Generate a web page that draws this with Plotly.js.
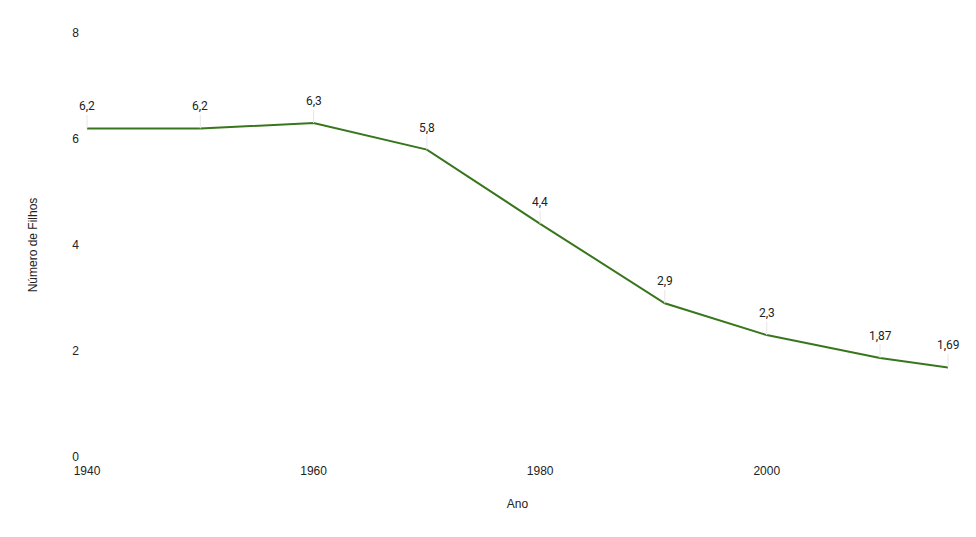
<!DOCTYPE html>
<html>
<head>
<meta charset="utf-8">
<script src="https://cdn.plot.ly/plotly-3.0.1.min.js"></script>
<style>
  html, body { margin: 0; padding: 0; background: #fff; }
  #chart { width: 976px; height: 537px; }
</style>
</head>
<body>
<div id="chart"></div>
<script>
// Taxa de fecundidade por ano
const anos = [1940, 1950, 1960, 1970, 1980, 1991, 2000, 2010, 2016];
const filhos = [6.2, 6.2, 6.3, 5.8, 4.4, 2.9, 2.3, 1.87, 1.69];
const rotulos = ['6,2', '6,2', '6,3', '5,8', '4,4', '2,9', '2,3', '1,87', '1,69'];

const trace = {
    type: 'scatter',
    mode: 'lines',
    x: anos,
    y: filhos,
    line: { color: '#38761d', width: 2 },
    hoverinfo: 'x+y'
};

// Rótulos com uma haste cinza clara acima de cada ponto
const annotations = anos.map((ano, i) => ({
    x: ano,
    y: filhos[i],
    xref: 'x',
    yref: 'y',
    text: rotulos[i],
    showarrow: true,
    arrowhead: 0,
    arrowwidth: 1,
    arrowcolor: '#e6e6e6',
    ax: 0,
    ay: -22,
    font: { family: 'Roboto, sans-serif', size: 12, color: '#222222' }
}));

const layout = {
    width: 976,
    height: 537,
    paper_bgcolor: '#ffffff',
    plot_bgcolor: '#ffffff',
    showlegend: false,
    margin: { l: 87, r: 28, t: 33, b: 80 },
    font: { family: 'Arial, "Liberation Sans", sans-serif', size: 12, color: '#222222' },
    xaxis: {
        range: [1940, 2016],
        tickvals: [1940, 1960, 1980, 2000],
        showgrid: false,
        zeroline: false,
        showline: false,
        ticks: '',
        ticklabelstandoff: 5,
        tickfont: { size: 12, color: '#222222' },
        title: { text: 'Ano', standoff: 22, font: { size: 12, color: '#222222' } },
        automargin: false
    },
    yaxis: {
        range: [0, 8],
        tickvals: [0, 2, 4, 6, 8],
        showgrid: false,
        zeroline: false,
        showline: false,
        ticks: '',
        ticklabelstandoff: 7,
        tickfont: { size: 12, color: '#222222' },
        title: { text: 'Número de Filhos', standoff: 32, font: { size: 12, color: '#222222' } },
        automargin: false
    },
    annotations: annotations
};

Plotly.newPlot('chart', [trace], layout, { displayModeBar: false, responsive: false });
</script>
</body>
</html>
